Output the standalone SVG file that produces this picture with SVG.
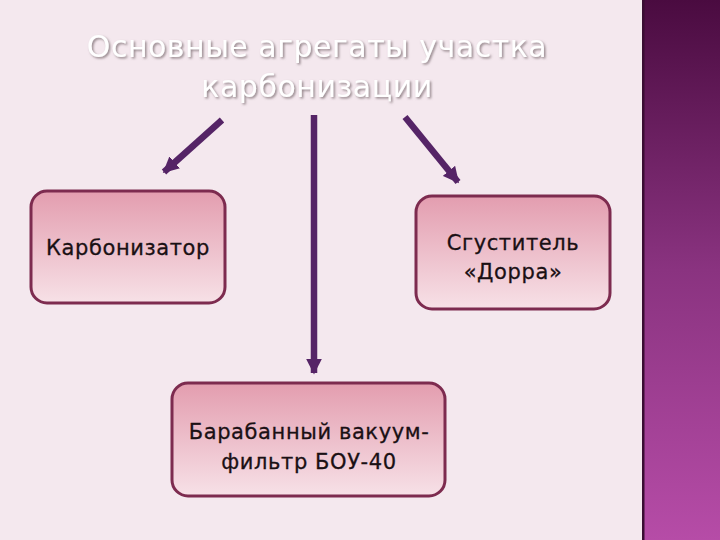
<svg xmlns="http://www.w3.org/2000/svg" width="720" height="540" viewBox="0 0 720 540">
  <defs>
    <linearGradient id="strip" x1="0" y1="0" x2="0" y2="1">
      <stop offset="0" stop-color="#4a0b40"/>
      <stop offset="0.5" stop-color="#8a3380"/>
      <stop offset="1" stop-color="#b64ca7"/>
    </linearGradient>
    <linearGradient id="boxfill" x1="0" y1="0" x2="0" y2="1">
      <stop offset="0" stop-color="#e39daf"/>
      <stop offset="1" stop-color="#f7e1e7"/>
    </linearGradient>
    <filter id="shadow" x="-10%" y="-30%" width="120%" height="160%">
      <feDropShadow dx="1.5" dy="1.5" stdDeviation="1" flood-color="#7a6a70" flood-opacity="0.8"/>
    </filter>
    <marker id="head" viewBox="0 0 10 10" refX="9" refY="5" markerWidth="16" markerHeight="16" markerUnits="userSpaceOnUse" orient="auto">
      <path d="M0,0 L10,5 L0,10 Z" fill="#552466"/>
    </marker>
    <style>
      .box { fill: url(#boxfill); stroke: #7d2b4f; stroke-width: 3; }
      .label { font-family: "DejaVu Sans", "Noto Sans", sans-serif; font-size: 21px; letter-spacing: 0.6px; fill: #1a1014; text-anchor: middle; stroke: #1a1014; stroke-width: 0.3; }
      .title { font-family: "DejaVu Sans", "Noto Sans", sans-serif; font-size: 30px; letter-spacing: 0.5px; fill: #ffffff; text-anchor: middle; filter: url(#shadow); }
      .conn { stroke: #552466; stroke-width: 6.5; fill: none; marker-end: url(#head); }
    </style>
  </defs>
  <rect x="0" y="0" width="720" height="540" fill="#f4e8ee"/>
  <rect x="643" y="0" width="77" height="540" fill="url(#strip)"/>
  <rect x="642" y="0" width="2.5" height="540" fill="#3a0d33"/>

  <g id="title">
    <text class="title" x="317" y="57">Основные агрегаты участка</text>
    <text class="title" x="317" y="97">карбонизации</text>
  </g>

  <g id="connectors">
    <line class="conn" x1="222" y1="120" x2="164" y2="172"/>
    <line class="conn" x1="314" y1="115" x2="314" y2="373"/>
    <line class="conn" x1="405" y1="117" x2="458" y2="182"/>
  </g>

  <g id="node-karbonizator">
    <rect class="box" x="31" y="191" width="194" height="112" rx="16"/>
    <text class="label" x="128" y="255">Карбонизатор</text>
  </g>

  <g id="node-sgustitel">
    <rect class="box" x="416" y="196" width="194" height="113" rx="16"/>
    <text class="label" x="513" y="250">Сгуститель</text>
    <text class="label" x="513" y="279">«Дорра»</text>
  </g>

  <g id="node-filtr">
    <rect class="box" x="172" y="383" width="273" height="113" rx="16"/>
    <text class="label" x="309" y="439">Барабанный вакуум-</text>
    <text class="label" x="309" y="469">фильтр БОУ-40</text>
  </g>
</svg>
